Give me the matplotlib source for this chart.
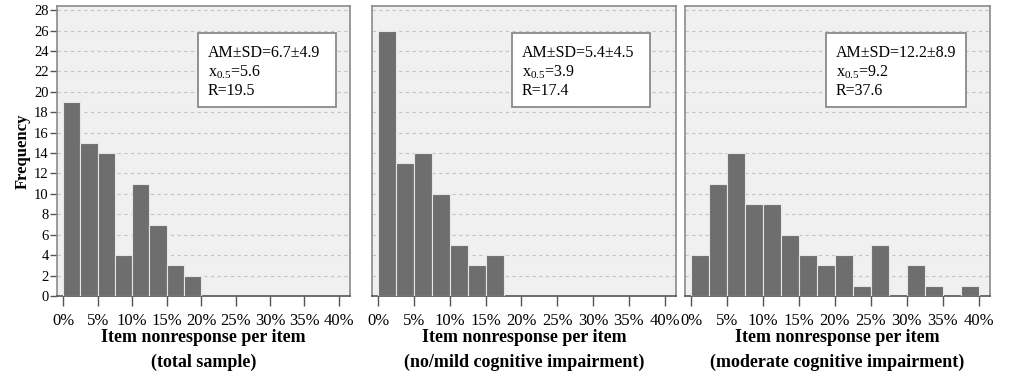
import numpy as np
import matplotlib.pyplot as plt
from matplotlib.patches import Rectangle

# bin edges in percent (2.5% wide bins)
bin_left = np.arange(0, 40, 2.5)

# frequencies per bin
freq_total = [19, 15, 14, 4, 11, 7, 3, 2, 0, 0, 0, 0, 0, 0, 0, 0]
freq_mild = [26, 13, 14, 10, 5, 3, 4, 0, 0, 0, 0, 0, 0, 0, 0, 0]
freq_moderate = [4, 11, 14, 9, 9, 6, 4, 3, 4, 1, 5, 0, 3, 1, 0, 1]

stats_total = ["AM\u00b1SD=6.7\u00b14.9", "5.6", "R=19.5"]
stats_mild = ["AM\u00b1SD=5.4\u00b14.5", "3.9", "R=17.4"]
stats_moderate = ["AM\u00b1SD=12.2\u00b18.9", "9.2", "R=37.6"]

xlabels = [
    "Item nonresponse per item\n(total sample)",
    "Item nonresponse per item\n(no/mild cognitive impairment)",
    "Item nonresponse per item\n(moderate cognitive impairment)",
]
xticks = np.arange(0, 45, 5)
xtick_labels = [f"{t}%" for t in xticks]
yticks = np.arange(0, 30, 2)

plt.rcParams['font.family'] = ['Liberation Serif', 'DejaVu Serif']

W, H = 1024, 377
fig = plt.figure(figsize=(W / 100, H / 100), dpi=100)
# axes pixel extents and stats box pixel extents (left, right)
panels = [
    (57, 350, 198, 336, freq_total, stats_total),
    (372, 676, 512, 650, freq_mild, stats_mild),
    (685, 990, 826, 966, freq_moderate, stats_moderate),
]
top, bottom = 6, 296
box_top, box_bottom = 33, 107

for i, (x0, x1, bx0, bx1, freq, stats) in enumerate(panels):
    ax = fig.add_axes([x0 / W, 1 - bottom / H, (x1 - x0) / W, (bottom - top) / H])
    ax.set_facecolor('#f0f0f0')
    freq = np.asarray(freq)
    nz = freq > 0
    ax.bar(bin_left[nz], freq[nz], width=2.5, align='edge', color='#6e6e6e',
           edgecolor='#e6e6e6', linewidth=0.8, zorder=3)
    ax.set_xlim(-0.9, 41.6)
    ax.set_ylim(0, 28.4)
    ax.set_yticks(yticks)
    ax.grid(axis='y', linestyle=(0, (3, 3)), color='#c4c4c4', linewidth=0.8, zorder=0)
    ax.set_xticks(xticks)
    ax.set_xticklabels(xtick_labels, fontsize=12)
    ax.tick_params(axis='x', direction='out', length=7, width=1, color='#555555', pad=5)
    for s in ax.spines.values():
        s.set_color('#8a8a8a')
        s.set_linewidth(1.2)
    ax.spines['bottom'].set_color('#555555')
    if i == 0:
        ax.set_ylabel("Frequency", fontsize=12, fontweight='bold', labelpad=2)
        ax.tick_params(axis='y', direction='out', length=5, width=1, color='#555555',
                       labelsize=10.5, pad=1)
    else:
        ax.tick_params(axis='y', left=False, labelleft=False)
    ax.set_xlabel(xlabels[i], fontsize=13, fontweight='bold', linespacing=1.6, labelpad=0)

    # stats box
    fig.patches.append(Rectangle((bx0 / W, 1 - box_bottom / H), (bx1 - bx0) / W,
                                 (box_bottom - box_top) / H, transform=fig.transFigure,
                                 facecolor='white', edgecolor='#8a8a8a', linewidth=1.3,
                                 zorder=5))
    fig.text((bx0 + 10) / W, 1 - 45 / H,
             stats[0] + "\n$\\mathregular{x_{0.5}}$=" + stats[1] + "\n" + stats[2],
             ha='left', va='top', fontsize=11.5, linespacing=1.2, zorder=6)

fig.savefig("out.png", dpi=100)
